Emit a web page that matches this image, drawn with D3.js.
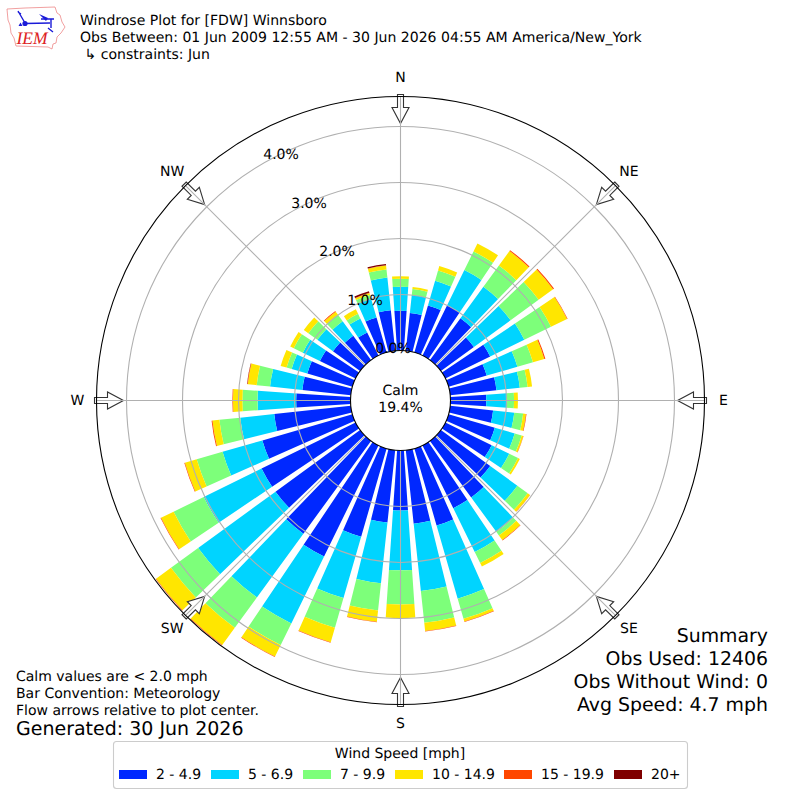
<!DOCTYPE html>
<html>
<head>
<meta charset="utf-8">
<script src="https://cdn.jsdelivr.net/npm/d3@7"></script>
<style>
  html, body { margin: 0; padding: 0; background: #fff; }
  text { font-family: "DejaVu Sans", sans-serif; fill: #000; text-rendering: geometricPrecision; }
</style>
</head>
<body>
<div id="windrose"></div>
<script>
// wind direction of each bar, degrees
var directions = [0, 10, 20, 30, 40, 50, 60, 70, 80, 90, 100, 110, 120, 130, 140, 150, 160, 170,
                  180, 190, 200, 210, 220, 230, 240, 250, 260, 270, 280, 290, 300, 310, 320, 330, 340, 350];

// percent of obs per speed bin
var speed2to5 = [.71, .68, .875, 1.0, .925, .73, .89, .71, .83, .64, .77, .86, .92, 1.09, 1.25, 1.25, 1.43, 1.32,
                 1.07, 1.30, 1.64, 2.21, 2.05, 1.87, 1.87, 1.675, 1.375, .97, .87, .84, .71, .60, .54, .46, .65, .73];
var speed5to7 = [.43, .32, .46, .70, .695, .81, .68, .57, .42, .37, .38, .37, .35, .60, .76, .87, 1.36, 1.21,
                 1.07, 1.09, 1.14, 1.33, 1.41, 1.71, 1.15, .74, .61, .69, .58, .29, .34, .345, .32, .28, .35, .585];
var speed7to10 = [.14, .11, .19, .37, .47, .62, .53, .29, .14, .125, .16, .13, .175, .23, .08, .22, .375, .57,
                  .61, .49, .55, .43, .67, .60, .60, .48, .375, .27, .24, .095, .18, .20, .14, .09, .07, .145];
var speed10to15 = [.045, .035, .08, .16, .32, .32, .32, .21, .08, .07, .05, .03, .035, .05, .10, .07, .05, .145,
                   .24, .20, .27, .23, .38, .33, .25, .22, .125, .17, .16, .11, .07, .10, .07, .09, .035, .07];
var speed15to20 = [0, 0, 0, 0, .02, .02, .01, .02, 0, 0, .01, .005, 0, .005, .01, 0, .01, .01,
                   0, .01, .01, .01, .01, .01, .01, .01, .015, .01, .01, 0, 0, 0, .0125, 0, .005, .005];
var speed20up = [0, 0, 0, 0, 0, 0, 0, 0, 0, 0, 0, 0, 0, 0, 0, 0, 0, 0,
                 0, 0, 0, 0, 0, 0, 0, 0, 0, 0, .004, 0, 0, 0, 0, 0, .03, .025];

var speedLabels = ["2 - 4.9", "5 - 6.9", "7 - 9.9", "10 - 14.9", "15 - 19.9", "20+"];
var speedColors = ["#0028ff", "#00d4ff", "#7dff7a", "#ffe600", "#ff4700", "#7f0000"];
var speedSeries = [speed2to5, speed5to7, speed7to10, speed10to15, speed15to20, speed20up];

var compass = ["N", "NE", "E", "SE", "S", "SW", "W", "NW"];
var compassAngles = [0, 45, 90, 135, 180, 225, 270, 315];
var ringTicks = [0, 1, 2, 3, 4];

var titleLines = ["Windrose Plot for [FDW] Winnsboro",
                  "Obs Between: 01 Jun 2009 12:55 AM - 30 Jun 2026 04:55 AM America/New_York",
                  " \u21b3 constraints: Jun"];
var noteLines = ["Calm values are < 2.0 mph", "Bar Convention: Meteorology", "Flow arrows relative to plot center."];
var summaryLines = ["Summary", "Obs Used: 12406", "Obs Without Wind: 0", "Avg Speed: 4.7 mph"];

var svg = d3.select("#windrose")
  .append("svg")
    .attr("width", 800)
    .attr("height", 800)
    .style("display", "block");

var cx = 400.5, cy = 400.5;

var r = d3.scaleLinear().domain([0, 4.536]).range([50, 304]);
var angle = d3.scaleLinear().domain([0, 360]).range([0, 2 * Math.PI]);
var color = d3.scaleOrdinal().domain(speedLabels).range(speedColors);

var plot = svg.append("g").attr("transform", "translate(" + cx + "," + cy + ")");

// stacked wedges
var arc = d3.arc();
speedLabels.forEach(function(label, s) {
  plot.append("g")
    .selectAll("path")
    .data(directions)
    .enter()
    .append("path")
      .attr("fill", color(label))
      .attr("d", function(d, i) {
        var base = d3.sum(speedSeries.slice(0, s), function(row) { return row[i]; });
        return arc({
          innerRadius: r(base),
          outerRadius: r(base + speedSeries[s][i]),
          startAngle: angle(d - 3.9),
          endAngle: angle(d + 3.9)
        });
      });
});

// flow arrows, tail on the outer ring and tip pointing at the center
var arrowOuter = r.range()[1] + 2;
plot.append("g")
  .selectAll("path")
  .data(compassAngles)
  .enter()
  .append("path")
    .attr("transform", function(d) { return "rotate(" + d + ")"; })
    .attr("d", "M-3," + (-arrowOuter) + "L3," + (-arrowOuter) + "L3,-293L8.5,-293L0,-277L-8.5,-293L-3,-293Z")
    .attr("fill", "#fff")
    .attr("stroke", "#333")
    .attr("stroke-width", 1.1)
    .attr("stroke-linejoin", "miter");

// grid goes over the bars
var grid = plot.append("g");
grid.selectAll("circle")
  .data(ringTicks.slice(1))
  .enter()
  .append("circle")
    .attr("r", function(d) { return r(d); })
    .attr("fill", "none")
    .attr("stroke", "#b0b0b0")
    .attr("stroke-width", 1.1);
grid.selectAll("line")
  .data(compassAngles)
  .enter()
  .append("line")
    .attr("transform", function(d) { return "rotate(" + d + ")"; })
    .attr("y1", -r.range()[0])
    .attr("y2", -r.range()[1])
    .attr("stroke", "#b0b0b0")
    .attr("stroke-width", 1.1);

plot.append("circle")
  .attr("r", r.range()[1])
  .attr("fill", "none")
  .attr("stroke", "#000")
  .attr("stroke-width", 1.1);
plot.append("circle")
  .attr("r", r.range()[0])
  .attr("fill", "#fff")
  .attr("stroke", "#000")
  .attr("stroke-width", 1.1);

// compass labels
plot.append("g")
  .selectAll("text")
  .data(compass)
  .enter()
  .append("text")
    .attr("x", function(d, i) { return Math.sin(angle(compassAngles[i])) * 323; })
    .attr("y", function(d, i) { return -Math.cos(angle(compassAngles[i])) * 323 + 4; })
    .attr("text-anchor", "middle")
    .style("font-size", "14px")
    .text(function(d) { return d; });

// ring labels along the 337.5 deg radial
plot.append("g")
  .selectAll("text")
  .data(ringTicks)
  .enter()
  .append("text")
    .attr("x", function(d) { return -7.5 - 28 * d; })
    .attr("y", function(d) { return -47.5 - 48.5 * d; })
    .attr("text-anchor", "middle")
    .style("font-size", "14px")
    .text(function(d) { return d.toFixed(1) + "%"; });

plot.append("text")
  .attr("y", -5.5)
  .attr("text-anchor", "middle")
  .style("font-size", "14px")
  .text("Calm");
plot.append("text")
  .attr("y", 11.5)
  .attr("text-anchor", "middle")
  .style("font-size", "14px")
  .text("19.4%");

// header
svg.append("g")
  .selectAll("text")
  .data(titleLines)
  .enter()
  .append("text")
    .attr("x", 80)
    .attr("y", function(d, i) { return 25 + 17 * i; })
    .attr("xml:space", "preserve")
    .style("white-space", "pre")
    .style("font-size", "14.05px")
    .text(function(d) { return d; });

// notes, lower left
svg.append("g")
  .selectAll("text")
  .data(noteLines)
  .enter()
  .append("text")
    .attr("x", 16)
    .attr("y", function(d, i) { return 681 + 17 * i; })
    .style("font-size", "14px")
    .text(function(d) { return d; });
svg.append("text")
  .attr("x", 16)
  .attr("y", 735)
  .style("font-size", "19px")
  .text("Generated: 30 Jun 2026");

// summary, lower right
svg.append("g")
  .selectAll("text")
  .data(summaryLines)
  .enter()
  .append("text")
    .attr("x", 768)
    .attr("y", function(d, i) { return 642 + 23 * i; })
    .attr("text-anchor", "end")
    .style("font-size", "18.9px")
    .text(function(d) { return d; });

// legend
var legend = svg.append("g");
legend.append("rect")
  .attr("x", 113.5)
  .attr("y", 741.5)
  .attr("width", 574)
  .attr("height", 47)
  .attr("rx", 3)
  .attr("fill", "#fff")
  .attr("stroke", "#ccc")
  .attr("stroke-width", 1.1);
legend.append("text")
  .attr("x", 400)
  .attr("y", 758)
  .attr("text-anchor", "middle")
  .style("font-size", "14px")
  .text("Wind Speed [mph]");

var legendX = [119, 211, 303, 395, 504, 614];
legend.selectAll("rect.swatch")
  .data(speedLabels)
  .enter()
  .append("rect")
    .attr("class", "swatch")
    .attr("x", function(d, i) { return legendX[i]; })
    .attr("y", 770)
    .attr("width", 28)
    .attr("height", 9)
    .attr("fill", function(d) { return color(d); });
legend.selectAll("text.item")
  .data(speedLabels)
  .enter()
  .append("text")
    .attr("class", "item")
    .attr("x", function(d, i) { return legendX[i] + 37; })
    .attr("y", 779)
    .style("font-size", "14px")
    .text(function(d) { return d; });

// IEM logo
var logo = svg.append("g");
logo.append("path")
  .attr("d", "M7,9L25,8L55,7L57,13L60,15L62,22L65,27L61,33L57,37L56,43L53,44L52,49L48,47L16,46L14,38L11,33L10,25L8,20Z")
  .attr("fill", "#fff")
  .attr("stroke", "#e88")
  .attr("stroke-width", .8);
logo.append("path")
  .attr("d", "M25,23.5L50,23M41,19L54,19M51,19L51,28M25,23L18,11M18,12L21,14M48,28L53,32")
  .attr("fill", "none")
  .attr("stroke", "#1a1ad8")
  .attr("stroke-width", 1.4);
logo.append("circle")
  .attr("cx", 25)
  .attr("cy", 23.5)
  .attr("r", 2.6)
  .attr("fill", "#1a1ad8");
logo.append("path")
  .attr("d", "M39,14L48,18L46,21ZM18.5,26L20.5,22.5L22.5,26Z")
  .attr("fill", "#1a1ad8");
logo.append("text")
  .attr("x", 16.5)
  .attr("y", 44)
  .style("font-family", "'Liberation Serif', serif")
  .style("font-style", "italic")
  .style("font-size", "17.5px")
  .style("fill", "#d22")
  .text("IEM");
</script>
</body>
</html>
